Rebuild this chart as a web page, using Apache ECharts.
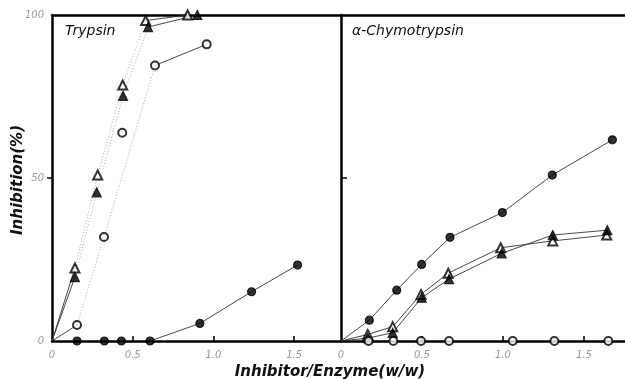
<!DOCTYPE html>
<html><head><meta charset="utf-8">
<script src="https://cdn.jsdelivr.net/npm/echarts@6/dist/echarts.min.js"></script>
<style>html,body{margin:0;padding:0;background:#fff}#c{width:625px;height:379px}</style>
</head><body><div id="c"></div>
<script>
const origin = [0, 0];
const xTickVals = [0, 0.5, 1.0, 1.5];
const yTickVals = [0, 50, 100];
// Trypsin panel
const trypOpenTri   = [[0.142,22.4],[0.283,50.9],[0.438,78.5],[0.58,98.3],[0.84,100]];
const trypSolidTri  = [[0.142,19.6],[0.277,45.6],[0.44,75.2],[0.595,96.3],[0.9,100]];
const trypOpenCirc  = [[0.155,4.9],[0.322,31.9],[0.435,63.9],[0.638,84.5],[0.958,91.0]];
const trypSolidCirc = [[0.155,0],[0.324,0],[0.43,0],[0.607,0],[0.916,5.4],[1.236,15.1],[1.521,23.3]];
// alpha-Chymotrypsin panel
const chymSolidCirc = [[0.175,6.4],[0.344,15.6],[0.498,23.5],[0.673,31.8],[0.996,39.4],[1.304,50.9],[1.675,61.7]];
const chymOpenTri   = [[0.165,2.0],[0.319,4.4],[0.494,14.3],[0.662,20.8],[0.986,28.6],[1.307,30.7],[1.64,32.5]];
const chymSolidTri  = [[0.165,0.9],[0.319,2.5],[0.498,13.3],[0.667,19.0],[0.992,26.9],[1.307,32.5],[1.644,34.0]];
const chymOpenCirc  = [[0.17,0],[0.323,0],[0.494,0],[0.667,0],[1.06,0],[1.317,0],[1.65,0]];

const chart = echarts.init(document.getElementById('c'));
const lblStyle = {color:'#999', fontSize:10, fontStyle:'italic', fontFamily:'DejaVu Sans'};
function fmt(v){ return v===0 ? '0' : v.toFixed(1); }

function line(grid, data, dotted){
  return {type:'line', xAxisIndex:grid, yAxisIndex:grid, data:data, symbol:'none', clip:false, silent:true,
    lineStyle: dotted ? {color:'#aaa', width:1, type:[1,2]} : {color:'#333', width:0.9}, z:2};
}
function marks(grid, data, sym){
  return {type:'scatter', xAxisIndex:grid, yAxisIndex:grid, data:data, symbol:sym,
    symbolSize: sym.indexOf('riangle')>=0 ? 9 : 8, clip:false,
    itemStyle:{color:'#000', borderColor:'#000', borderWidth:1.2}, z:5};
}
const series = [
  // Trypsin lines
  line(0, [origin, trypOpenTri[0]]),
  line(0, trypOpenTri.slice(0,4), true),
  line(0, trypOpenTri.slice(3)),
  line(0, [origin, trypSolidTri[0]]),
  line(0, trypSolidTri.slice(0,4), true),
  line(0, trypSolidTri.slice(3)),
  line(0, [origin, trypOpenCirc[0]]),
  line(0, [trypOpenCirc[0], trypOpenCirc[1], trypOpenCirc[3]], true),
  line(0, trypOpenCirc.slice(3)),
  line(0, trypSolidCirc.slice(3)),
  marks(0, trypOpenTri, 'emptyTriangle'),
  marks(0, trypSolidTri, 'triangle'),
  marks(0, trypOpenCirc, 'emptyCircle'),
  marks(0, trypSolidCirc, 'circle'),
  // Chymotrypsin lines
  line(1, [origin].concat(chymSolidCirc)),
  line(1, [origin].concat(chymOpenTri)),
  line(1, [origin].concat(chymSolidTri)),
  marks(1, chymSolidCirc, 'circle'),
  marks(1, chymOpenTri, 'emptyTriangle'),
  marks(1, chymSolidTri, 'triangle'),
  marks(1, chymOpenCirc, 'emptyCircle')
];

chart.setOption({
  animation:false,
  backgroundColor:'#fff',
  grid:[
    {left:52, top:15, width:289, height:326},
    {left:341, top:15, width:284, height:326}
  ],
  xAxis:[
    {gridIndex:0, type:'value', min:0, max:1.79, position:'bottom',
      axisLine:{lineStyle:{color:'#000', width:2.5}},
      axisTick:{inside:true, length:5, customValues:xTickVals.slice(1), lineStyle:{color:'#000', width:1.5}},
      axisLabel:{customValues:xTickVals, formatter:fmt, margin:9, ...lblStyle},
      splitLine:{show:false}},
    {gridIndex:1, type:'value', min:0, max:1.753, position:'bottom',
      axisLine:{lineStyle:{color:'#000', width:2.5}},
      axisTick:{inside:true, length:5, customValues:xTickVals.slice(1), lineStyle:{color:'#000', width:1.5}},
      axisLabel:{customValues:xTickVals, formatter:fmt, margin:9, ...lblStyle},
      splitLine:{show:false}},
    {gridIndex:0, type:'value', min:0, max:1.79, position:'top',
      axisLine:{lineStyle:{color:'#000', width:2.5}}, axisTick:{show:false}, axisLabel:{show:false}, splitLine:{show:false}},
    {gridIndex:1, type:'value', min:0, max:1.753, position:'top',
      axisLine:{lineStyle:{color:'#000', width:2.5}}, axisTick:{show:false}, axisLabel:{show:false}, splitLine:{show:false}}
  ],
  yAxis:[
    {gridIndex:0, type:'value', min:0, max:100,
      axisLine:{show:true, lineStyle:{color:'#000', width:2.5}},
      axisTick:{show:true, length:5, customValues:[50], lineStyle:{color:'#000', width:1.5}},
      axisLabel:{customValues:yTickVals, margin:8, ...lblStyle},
      splitLine:{show:false}},
    {gridIndex:1, type:'value', min:0, max:100,
      axisLine:{show:true, lineStyle:{color:'#000', width:2.5}},
      axisTick:{show:true, inside:true, length:6, customValues:[50], lineStyle:{color:'#000', width:1.5}},
      axisLabel:{show:false},
      splitLine:{show:false}}
  ],
  series: series,
  graphic:[
    {type:'text', left:65, top:24, style:{text:'Trypsin', font:'italic 14px "DejaVu Sans"', fill:'#111'}},
    {type:'text', left:352, top:24, style:{text:'α-Chymotrypsin', font:'italic 14px "DejaVu Sans"', fill:'#111'}},
    {type:'text', x:330, y:372, style:{text:'Inhibitor/Enzyme(w/w)', font:'italic bold 15px "DejaVu Sans"', fill:'#111', align:'center', verticalAlign:'middle'}},
    {type:'text', x:18, y:180, rotation:Math.PI/2, style:{text:'Inhibition(%)', font:'italic bold 15px "DejaVu Sans"', fill:'#111', align:'center', verticalAlign:'middle'}}
  ]
});
</script></body></html>
